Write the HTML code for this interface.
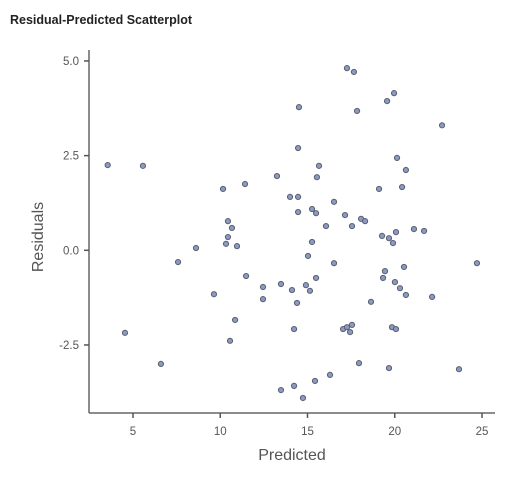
<!DOCTYPE html>
<html><head><meta charset="utf-8"><style>
body{margin:0;background:#fff;width:528px;height:488px;overflow:hidden;font-family:"Liberation Sans",sans-serif}
</style></head><body>
<svg id="chart" width="528" height="488" xmlns="http://www.w3.org/2000/svg">
<text x="10" y="24" font-size="12.5" font-weight="bold" fill="#222">Residual-Predicted Scatterplot</text>
<g id="axes"></g><g id="pts"></g>
</svg>
<script>
const xTicks=[5,10,15,20,25];
const yTicks=[5.0,2.5,0.0,-2.5];
const yTickLabels=["5.0","2.5","0.0","-2.5"];
const predicted=[3.55,5.57,10.16,11.42,13.25,14.0,14.46,14.46,14.46,14.51,10.44,10.67,10.44,10.33,10.96,8.61,17.26,17.66,19.96,19.56,17.84,22.71,20.13,15.66,20.64,15.54,19.1,20.42,15.26,15.49,16.52,17.15,16.06,17.55,18.07,18.3,19.27,19.67,19.9,20.07,21.1,21.68,15.26,7.58,11.48,9.64,12.45,12.45,13.48,14.11,14.4,10.85,10.56,14.23,4.54,6.6,13.48,14.23,15.03,16.52,24.71,19.44,20.53,19.33,15.49,20.01,20.3,20.64,22.14,14.91,15.14,18.64,17.04,17.26,17.44,17.55,19.84,20.07,17.95,19.67,23.68,16.29,15.43,14.74];
const residuals=[2.25,2.23,1.62,1.75,1.96,1.41,1.41,1.01,2.70,3.78,0.77,0.59,0.35,0.17,0.11,0.06,4.81,4.71,4.15,3.94,3.68,3.30,2.44,2.23,2.12,1.93,1.62,1.67,1.09,0.98,1.28,0.93,0.64,0.64,0.83,0.77,0.38,0.32,0.19,0.48,0.56,0.51,0.22,-0.31,-0.68,-1.16,-0.97,-1.29,-0.89,-1.05,-1.39,-1.84,-2.39,-2.08,-2.18,-3.0,-3.69,-3.58,-0.15,-0.34,-0.34,-0.55,-0.44,-0.73,-0.73,-0.84,-1.0,-1.18,-1.23,-0.92,-1.07,-1.36,-2.08,-2.03,-2.16,-1.97,-2.03,-2.08,-2.98,-3.11,-3.14,-3.29,-3.45,-3.9];
const NS="http://www.w3.org/2000/svg";
const xs=v=>45.75+v*17.45;
const ys=v=>250.3-v*37.87;
function mk(t,a,p){const e=document.createElementNS(NS,t);for(const k in a)e.setAttribute(k,a[k]);p.appendChild(e);return e;}
const ax=document.getElementById('axes'),pg=document.getElementById('pts');
const L=89,B=413,R=495,T=50;
let yl=mk('line',{x1:L,y1:T,x2:L,y2:B,stroke:'#666','stroke-width':1.5},ax);


let xl=mk('line',{x1:L,y1:B,x2:R,y2:B,stroke:'#666','stroke-width':1.5},ax);


xTicks.forEach(v=>{const x=xs(v);
 mk('line',{x1:x,y1:B,x2:x,y2:B+5,stroke:'#555','stroke-width':1.5},ax);
 const t=mk('text',{x:x,y:B+22,'text-anchor':'middle','font-size':11.5,fill:'#555'},ax);t.textContent=v;
 
 
});
yTicks.forEach((v,i)=>{const y=ys(v);
 mk('line',{x1:L-5,y1:y,x2:L,y2:y,stroke:'#555','stroke-width':1.5},ax);
 const t=mk('text',{x:L-10,y:y+4,'text-anchor':'end','font-size':11.5,fill:'#555'},ax);t.textContent=yTickLabels[i];
 
 
});
let xt=mk('text',{x:292,y:460,'text-anchor':'middle','font-size':16,fill:'#555'},ax);xt.textContent='Predicted';


let yt=mk('text',{x:0,y:0,'text-anchor':'middle','font-size':16,fill:'#555',transform:'translate(43,237) rotate(-90)'},ax);yt.textContent='Residuals';


predicted.forEach((p,i)=>{
 const c=mk('circle',{cx:xs(p),cy:ys(residuals[i]),r:2.6,fill:'#8a9ac4',stroke:'#5a5f6e','stroke-width':1},pg);
 
 
});
</script>
</body></html>
